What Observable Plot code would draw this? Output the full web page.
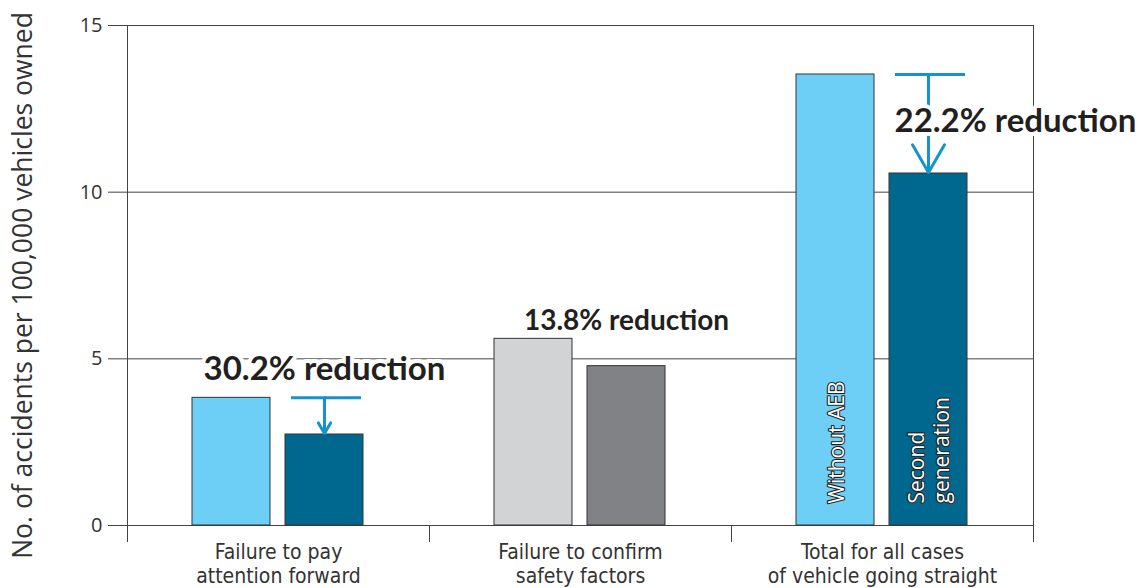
<!DOCTYPE html>
<html>
<head>
<meta charset="utf-8">
<script src="https://cdn.jsdelivr.net/npm/d3@7"></script>
<script src="https://cdn.jsdelivr.net/npm/@observablehq/plot@0.6"></script>
<style>
  html, body { margin: 0; padding: 0; background: #fff; }
  svg { display: block; overflow: visible; }
</style>
</head>
<body>
<div id="chart"></div>
<script>
// ---- data ----
const categories = [
  "Failure to pay\nattention forward",
  "Failure to confirm\nsafety factors",
  "Total for all cases\nof vehicle going straight"
];
const series = ["Without AEB", "Second generation"];
const withoutAEB = [3.83, 5.60, 13.53];
const secondGen = [2.73, 4.78, 10.56];
const reductionLabels = ["30.2% reduction", "13.8% reduction", "22.2% reduction"];
const seriesLabels = ["Without AEB", "Second\ngeneration"];
const yTicks = [0, 5, 10, 15];
const yLabel = "No. of accidents per 100,000 vehicles owned";

// ---- styles ----
const lightFills = ["#6dcff6", "#d1d3d4", "#6dcff6"];
const darkFills = ["#00688f", "#808285", "#00688f"];
const arrowColor = "#1493cc";
const ink = "#231f20";
const lineColor = "#444";
const sans = "'Open Sans', 'Noto Sans', sans-serif";
const narrow = "'Liberation Sans Narrow', 'DejaVu Sans Condensed', 'Open Sans', sans-serif";
const bold = "Lato, 'Open Sans', sans-serif";

// ---- derived tables ----
const rows = categories.flatMap((c, i) => [
  {category: c, series: series[0], value: withoutAEB[i], fill: lightFills[i]},
  {category: c, series: series[1], value: secondGen[i], fill: darkFills[i]}
]);
const ann = categories.map((c, i) => ({
  category: c, series: series[1], from: withoutAEB[i], to: secondGen[i],
  mid: (withoutAEB[i] + secondGen[i]) / 2, label: reductionLabels[i]
}));
const arrows = [ann[0], ann[2]];
const barLabels = series.map((s, j) => ({category: categories[2], series: s, text: seriesLabels[j]}));

const chart = Plot.plot({
  width: 1147,
  height: 588,
  marginLeft: 127,
  marginRight: 114,
  marginTop: 25,
  marginBottom: 63,
  style: {fontFamily: sans, background: "#fff", color: ink},
  fx: {domain: categories, padding: 0, label: null},
  x: {domain: series, paddingInner: 0.16, paddingOuter: 0.7, axis: null},
  y: {domain: [0, 15], label: null},
  color: {type: "identity"},
  marks: [
    Plot.gridY(yTicks, {stroke: lineColor, strokeOpacity: 1, strokeWidth: 1}),
    Plot.axisY(yTicks, {tickSize: 19, tickPadding: 6, fontSize: 20, label: null, stroke: lineColor, fill: "#333", fontFamily: sans}),
    Plot.axisFx({anchor: "bottom", tickSize: 0, tickPadding: 17, fontSize: 21, lineHeight: 1.12, label: null, fill: "#333", fontFamily: narrow}),
    Plot.frame({anchor: "left", facet: "super", insetBottom: -16, stroke: lineColor}),
    Plot.frame({anchor: "right", facet: "super", insetBottom: -16, stroke: lineColor}),
    Plot.frame({anchor: "left", insetTop: 500, insetBottom: -16, stroke: lineColor}),
    Plot.text([yLabel], {text: d => d, frameAnchor: "left", textAnchor: "middle", rotate: -90, dx: -104, dy: 10, fontSize: 26.5, fill: "#333", facet: "super", fontFamily: sans}),
    Plot.barY(rows, {fx: "category", x: "series", y: "value", fill: "fill", stroke: "#333", strokeWidth: 1}),
    Plot.text(barLabels, {fx: "category", x: "series", y: 0, text: "text", rotate: -90, textAnchor: "start", dy: -22, fontSize: 21, lineHeight: 1.2, fill: "#fff", stroke: ink, strokeWidth: 2.2, fontFamily: sans}),
    Plot.tickY(arrows, {fx: "category", x: "series", y: "from", stroke: arrowColor, strokeWidth: 3, insetLeft: 6, insetRight: 2}),
    Plot.arrow(arrows, {fx: "category", x: "series", y1: "from", y2: "to", stroke: arrowColor, strokeWidth: 3, headLength: 16, headAngle: 60, insetEnd: 1}),
    Plot.text([ann[0]], {fx: "category", x: "series", y: "from", text: "label", dy: -28, fontSize: 33, fontWeight: "bold", fill: ink, stroke: "#fff", strokeWidth: 8, fontFamily: bold}),
    Plot.text([ann[1]], {fx: "category", x: "series", y: "from", text: "label", dy: -18, fontSize: 28, fontWeight: "bold", fill: ink, stroke: "#fff", strokeWidth: 6, fontFamily: bold}),
    Plot.text([ann[2]], {fx: "category", x: "series", y: "mid", text: "label", textAnchor: "start", dx: -34, dy: -3, fontSize: 33, fontWeight: "bold", fill: ink, stroke: "#fff", strokeWidth: 8, fontFamily: bold})
  ]
});
document.getElementById("chart").appendChild(chart);
</script>
</body>
</html>
